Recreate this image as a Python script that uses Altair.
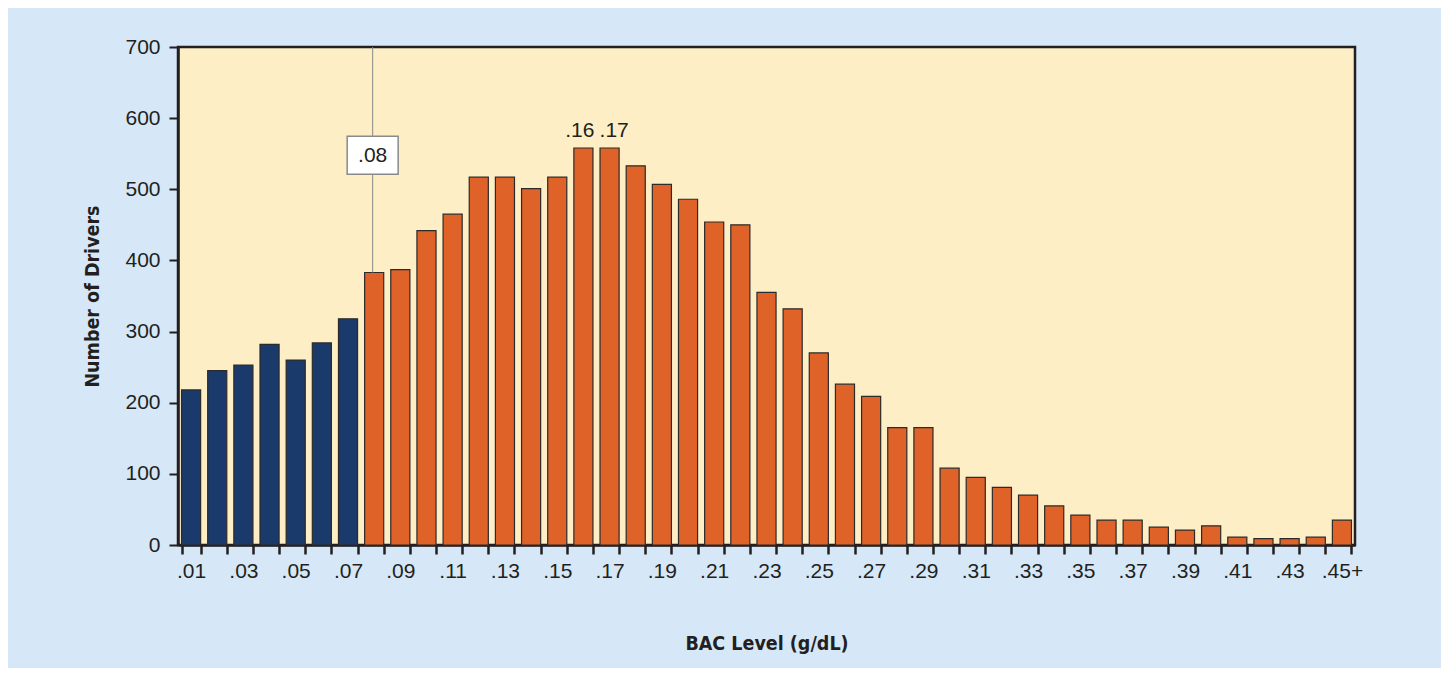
import json
import altair as alt
import pandas as pd

# ---- data ----
bac_levels = [".01", ".02", ".03", ".04", ".05", ".06", ".07", ".08", ".09", ".10",
              ".11", ".12", ".13", ".14", ".15", ".16", ".17", ".18", ".19", ".20",
              ".21", ".22", ".23", ".24", ".25", ".26", ".27", ".28", ".29", ".30",
              ".31", ".32", ".33", ".34", ".35", ".36", ".37", ".38", ".39", ".40",
              ".41", ".42", ".43", ".44", ".45+"]
drivers = [218, 245, 253, 282, 260, 284, 318,
           383, 387, 442, 465, 517, 517, 501, 517, 558, 558,
           533, 507, 486, 454, 450, 355, 332, 270, 226, 209,
           165, 165, 108, 95, 81, 70, 55, 42, 35, 35,
           25, 21, 27, 11, 9, 9, 11, 35]
groups = ["below"] * 7 + ["above"] * 38
shown_tick_labels = [".01", ".03", ".05", ".07", ".09", ".11", ".13", ".15", ".17", ".19",
                     ".21", ".23", ".25", ".27", ".29", ".31", ".33", ".35", ".37", ".39",
                     ".41", ".43", ".45+"]
y_ticks = [0, 100, 200, 300, 400, 500, 600, 700]
legal_limit = ".08"
peak_levels = [".16", ".17"]

df = pd.DataFrame({"bac": bac_levels, "drivers": drivers, "group": groups})
limit_df = df[df["bac"] == legal_limit]
peak_left_df = df[df["bac"] == peak_levels[0]]
peak_right_df = df[df["bac"] == peak_levels[1]]

NAVY = "#1a3a6b"
ORANGE = "#df6228"
DARK = "#231f20"
FONT = "Liberation Sans"
CFONT = "Liberation Sans Narrow, DejaVu Sans Condensed, Arial Narrow, sans-serif"

x_enc = alt.X(
    "bac:N",
    sort=bac_levels,
    scale=alt.Scale(domain=bac_levels, paddingInner=0.27, paddingOuter=0.135),
    axis=alt.Axis(
        title="BAC Level (g/dL)",
        labelExpr=f"indexof({json.dumps(shown_tick_labels)}, datum.value) >= 0 ? datum.label : ''",
        labelAngle=0,
        tickBand="extent",
        tickSize=9,
        tickWidth=2.5,
        tickColor=DARK,
        domainColor=DARK,
        domainWidth=2.5,
        labelFont=FONT,
        labelFontSize=21,
        labelColor=DARK,
        labelPadding=6,
        titleFont=CFONT,
        titleFontSize=19.5,
        titleFontWeight="bold",
        titleColor=DARK,
        titlePadding=53,
    ),
)

y_scale = alt.Scale(domain=[0, 700], nice=False)
y_axis = alt.Axis(
    title="Number of Drivers",
    values=y_ticks,
    grid=False,
    tickSize=9,
    tickWidth=2,
    tickColor=DARK,
    domainColor=DARK,
    domainWidth=2.5,
    labelFont=FONT,
    labelFontSize=21,
    labelColor=DARK,
    labelPadding=9,
    titleFont=CFONT,
    titleFontSize=19.5,
    titleFontWeight="bold",
    titleColor=DARK,
    titlePadding=22,
)

bars = alt.Chart(df).mark_bar(stroke="#2b2b2b", strokeWidth=1.2).encode(
    x=x_enc,
    y=alt.Y("drivers:Q", scale=y_scale, axis=y_axis),
    color=alt.Color("group:N", scale=alt.Scale(domain=["below", "above"], range=[NAVY, ORANGE]), legend=None),
)

limit_rule = alt.Chart(limit_df).mark_rule(color="#8a8a8a", strokeWidth=1, xOffset=-1.5).encode(
    x=x_enc,
    y=alt.Y("drivers:Q", scale=y_scale, axis=y_axis),
    y2=alt.datum(700),
)

limit_box = alt.Chart(limit_df).mark_point(
    shape="M-1,-0.745L1,-0.745L1,0.745L-1,0.745Z",
    size=2601,
    filled=True,
    fill="white",
    stroke="#8a8a8a",
    strokeWidth=1.5,
    opacity=1,
    xOffset=-1.5,
).encode(
    x=x_enc,
    y=alt.datum(548),
)

limit_text = alt.Chart(limit_df).mark_text(
    font=FONT, fontSize=21, color=DARK, baseline="middle", align="center", dx=-1.5, dy=1
).encode(
    x=x_enc,
    y=alt.datum(548),
    text="bac:N",
)

peak_left = alt.Chart(peak_left_df).mark_text(
    font=FONT, fontSize=21, color=DARK, baseline="alphabetic", align="right", dx=11, dy=-11
).encode(
    x=x_enc,
    y=alt.Y("drivers:Q", scale=y_scale, axis=y_axis),
    text="bac:N",
)

peak_right = alt.Chart(peak_right_df).mark_text(
    font=FONT, fontSize=21, color=DARK, baseline="alphabetic", align="left", dx=-10, dy=-11
).encode(
    x=x_enc,
    y=alt.Y("drivers:Q", scale=y_scale, axis=y_axis),
    text="bac:N",
)

chart = alt.layer(bars, limit_rule, limit_box, limit_text, peak_left, peak_right).properties(
    width=1177,
    height=498,
    background="#d6e8f7",
    padding={"left": 170, "top": 39, "right": 86, "bottom": 123},
    autosize=alt.AutoSizeParams(type="none"),
).configure_view(
    fill="#fdeec6",
    stroke=DARK,
    strokeWidth=2.5,
)

chart.save("out.html", embed_options={"renderer": "svg", "actions": False})
